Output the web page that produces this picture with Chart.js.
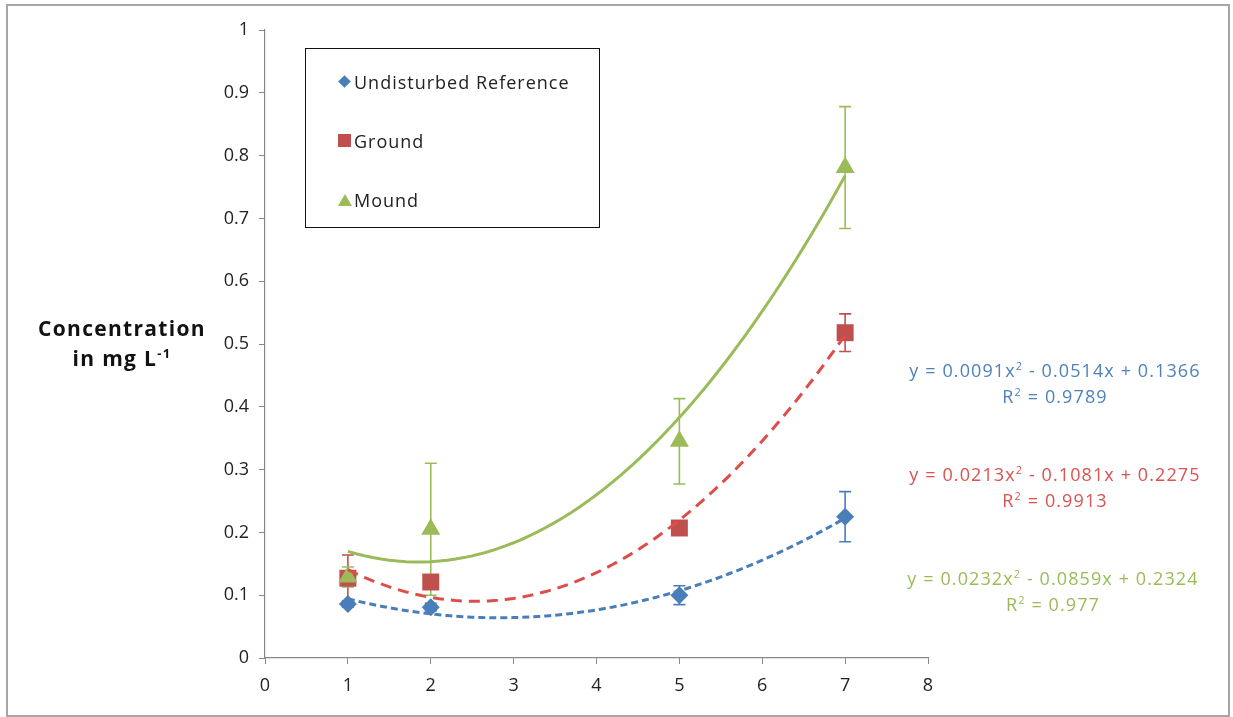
<!DOCTYPE html>
<html>
<head>
<meta charset="utf-8">
<script src="https://cdn.jsdelivr.net/npm/chart.js@4.4.0/dist/chart.umd.min.js"></script>
<style>
  body { margin: 0; background: #fff; font-family: "Open Sans", sans-serif; }
  #wrap { position: relative; width: 1233px; height: 717px; }
  #frame { position: absolute; left: 6px; top: 4px; width: 1224px; height: 713px; border: 2px solid #a6a6a6; box-sizing: border-box; pointer-events: none; }
  #ytitle { position: absolute; left: 22px; top: 313px; width: 200px; text-align: center; font-weight: bold; font-size: 21px; letter-spacing: 1.3px; line-height: 30px; color: #111; }
  #legend { position: absolute; left: 305px; top: 48px; width: 295px; height: 180px; border: 1.5px solid #111; box-sizing: border-box; font-size: 18px; letter-spacing: 1px; color: #222; }
  .item { position: absolute; left: 48px; line-height: 24px; }
  .mk { position: absolute; left: -16px; }
  .diamond { width: 9px; height: 9px; background: #4a7ebb; transform: rotate(45deg); top: 7px; left: -14px; }
  .square { width: 13px; height: 13px; background: #c0504d; top: 5px; }
  .tri { width: 0; height: 0; border-left: 7px solid transparent; border-right: 7px solid transparent; border-bottom: 12px solid #9bbb59; top: 6px; }
  .eq { position: absolute; width: 340px; text-align: center; font-size: 18px; letter-spacing: 1.1px; line-height: 26px; }
  sup { line-height: 0; font-size: 11px; }
  canvas { position: absolute; left: 0; top: 0; }
</style>
</head>
<body>
<div id="wrap">
  <canvas id="chart" width="1233" height="717"></canvas>
  <div id="frame"></div>
  <div id="ytitle">Concentration<br>in mg L<sup style="font-size:13px">-1</sup></div>
  <div id="legend">
    <div class="item" style="top:21px"><span class="mk diamond"></span>Undisturbed Reference</div>
    <div class="item" style="top:80px"><span class="mk square"></span>Ground</div>
    <div class="item" style="top:139px"><span class="mk tri"></span>Mound</div>
  </div>
  <div class="eq" style="left:885px;top:357px;color:#4f81bd">y = 0.0091x<sup>2</sup> - 0.0514x + 0.1366<br>R<sup>2</sup> = 0.9789</div>
  <div class="eq" style="left:885px;top:461px;color:#d9534f">y = 0.0213x<sup>2</sup> - 0.1081x + 0.2275<br>R<sup>2</sup> = 0.9913</div>
  <div class="eq" style="left:883px;top:565px;color:#9bbb59">y = 0.0232x<sup>2</sup> - 0.0859x + 0.2324<br>R<sup>2</sup> = 0.977</div>
</div>
<script>
// sampling days and measured concentrations (mg/L)
const days = [1, 2, 5, 7];
const undisturbed = [0.086, 0.081, 0.100, 0.225];
const ground = [0.127, 0.121, 0.207, 0.518];
const mound = [0.129, 0.205, 0.345, 0.781];

// +/- error for each point
const undisturbedErr = [0.005, 0.006, 0.015, 0.04];
const groundErr = [0.037, 0.01, 0.01, 0.03];
const moundErr = [0.016, 0.105, 0.068, 0.097];

// quadratic trendline coefficients [a, b, c] for y = ax^2 + bx + c
const undisturbedFit = [0.0091, -0.0514, 0.1366];
const groundFit = [0.0213, -0.1081, 0.2275];
const moundFit = [0.0232, -0.0859, 0.2324];

const xTicks = [0, 1, 2, 3, 4, 5, 6, 7, 8];
const yTicks = [0, 0.1, 0.2, 0.3, 0.4, 0.5, 0.6, 0.7, 0.8, 0.9, 1];

const blue = '#4a7ebb', red = '#c0504d', green = '#9bbb59';
const tickFont = { family: 'Open Sans', size: 18 };

const pts = (vals) => days.map((d, i) => ({ x: d, y: vals[i] }));

function curve(coef) {
  const out = [];
  for (let i = 0; i <= 60; i++) {
    const x = 1 + i * 0.1;
    out.push({ x: x, y: coef[0] * x * x + coef[1] * x + coef[2] });
  }
  return out;
}

// vertical error bars with caps, drawn under the markers
const errorBars = {
  id: 'errorBars',
  beforeDatasetsDraw(chart) {
    const { ctx, scales: { x, y } } = chart;
    chart.data.datasets.forEach((ds) => {
      if (!ds.errors) return;
      ctx.save();
      ctx.strokeStyle = ds.errColor;
      ctx.lineWidth = 1.6;
      ds.data.forEach((p, j) => {
        const e = ds.errors[j];
        const px = x.getPixelForValue(p.x);
        const top = y.getPixelForValue(p.y + e);
        const bot = y.getPixelForValue(p.y - e);
        ctx.beginPath();
        ctx.moveTo(px, top); ctx.lineTo(px, bot);
        ctx.moveTo(px - 6, top); ctx.lineTo(px + 6, top);
        ctx.moveTo(px - 6, bot); ctx.lineTo(px + 6, bot);
        ctx.stroke();
      });
      ctx.restore();
    });
  }
};

const trend = (coef, color, dash) => ({
  type: 'line',
  data: curve(coef),
  borderColor: color,
  borderWidth: 3,
  borderDash: dash,
  pointRadius: 0,
  fill: false,
  tension: 0,
  order: 0
});

// lower order is painted later, so green sits above red above blue
const markers = (vals, errs, color, style, r, order) => ({
  type: 'scatter',
  data: pts(vals),
  errors: errs,
  errColor: color,
  backgroundColor: color,
  borderColor: color,
  borderWidth: 0,
  pointStyle: style,
  pointRadius: r,
  order: order
});

new Chart(document.getElementById('chart'), {
  type: 'scatter',
  data: {
    datasets: [
      markers(undisturbed, undisturbedErr, blue, 'rectRot', 9, 3),
      markers(ground, groundErr, red, 'rect', 12, 2),
      markers(mound, moundErr, green, 'triangle', 11, 1),
      trend(undisturbedFit, '#4a7ebb', [7, 4]),
      trend(groundFit, '#dc4e4a', [11, 7]),
      trend(moundFit, '#9bbb59', [])
    ]
  },
  options: {
    responsive: false,
    animation: false,
    layout: { padding: { left: 0, top: 30, right: 305, bottom: 0 } },
    plugins: { legend: { display: false }, tooltip: { enabled: false } },
    scales: {
      x: {
        type: 'linear', min: 0, max: 8,
        afterBuildTicks: (s) => { s.ticks = xTicks.map(v => ({ value: v })); },
        afterFit: (s) => { s.height = 59; },
        grid: { drawOnChartArea: false, tickLength: 6, tickColor: '#888' },
        border: { color: '#888', width: 1.2 },
        ticks: { color: '#222', padding: 11, font: tickFont, callback: (v) => String(v) }
      },
      y: {
        type: 'linear', min: 0, max: 1,
        afterBuildTicks: (s) => { s.ticks = yTicks.map(v => ({ value: v })); },
        afterFit: (s) => { s.width = 265; },
        grid: { drawOnChartArea: false, tickLength: 6, tickColor: '#888' },
        border: { color: '#888', width: 1.2 },
        ticks: { color: '#222', padding: 10, font: tickFont, callback: (v) => String(+v.toFixed(1)) }
      }
    }
  },
  plugins: [errorBars]
});
</script>
</body>
</html>
